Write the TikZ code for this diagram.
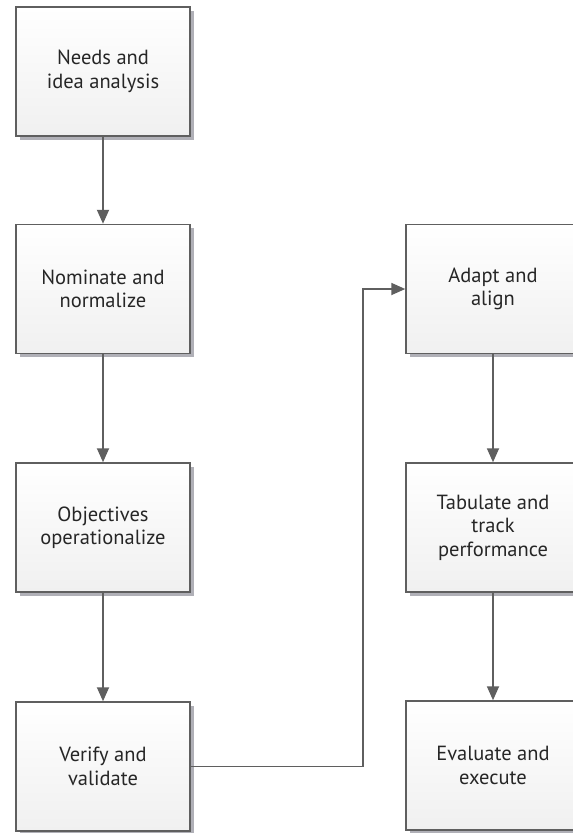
\documentclass[tikz,border=0pt]{standalone}
\usepackage{fontspec}
\setmainfont{PT Sans}
\usetikzlibrary{arrows.meta,shadows}
\definecolor{edgegray}{HTML}{5F5F5F}
\definecolor{shadowgray}{HTML}{A8A8B0}
\definecolor{fillbottom}{HTML}{F0F0F0}
\begin{document}
\begin{tikzpicture}[x=1pt,y=-1pt,
  stepbox/.style={draw=edgegray, line width=1.5pt, rectangle,
    minimum width=174pt, minimum height=129pt, inner sep=0pt,
    top color=white, bottom color=fillbottom,
    align=center, text=black!85,
    font=\fontsize{20.5pt}{23.5pt}\selectfont,
    drop shadow={shadow xshift=3.5pt, shadow yshift=-3.5pt, fill=shadowgray, opacity=0.9}},
  flow/.style={draw=edgegray, line width=1.8pt,
    -{Triangle[width=12pt,length=14pt]}}]
\useasboundingbox (0,0) rectangle (573,833);
\clip (0,0) rectangle (573,833);
\fill[white] (0,0) rectangle (573,833);

% left column
\node[stepbox] (n1) at (103,71.5)  {Needs and\\idea analysis};
\node[stepbox] (n2) at (103,289)   {Nominate and\\normalize};
\node[stepbox] (n3) at (103,527.5) {Objectives\\operationalize};
\node[stepbox] (n4) at (103,766.5) {Verify and\\validate};

% right column
\node[stepbox] (r1) at (493,289)   {Adapt and\\align};
\node[stepbox] (r2) at (493,527.5) {Tabulate and\\track\\performance};
\node[stepbox] (r3) at (493,765.5) {Evaluate and\\execute};

% connectors
\draw[flow] (n1) -- (n2);
\draw[flow] (n2) -- (n3);
\draw[flow] (n3) -- (n4);
\coordinate (turn) at (363,766.5);
\draw[flow] (n4.east) -- (turn) |- (r1.west);
\draw[flow] (r1) -- (r2);
\draw[flow] (r2) -- (r3);
\end{tikzpicture}
\end{document}
